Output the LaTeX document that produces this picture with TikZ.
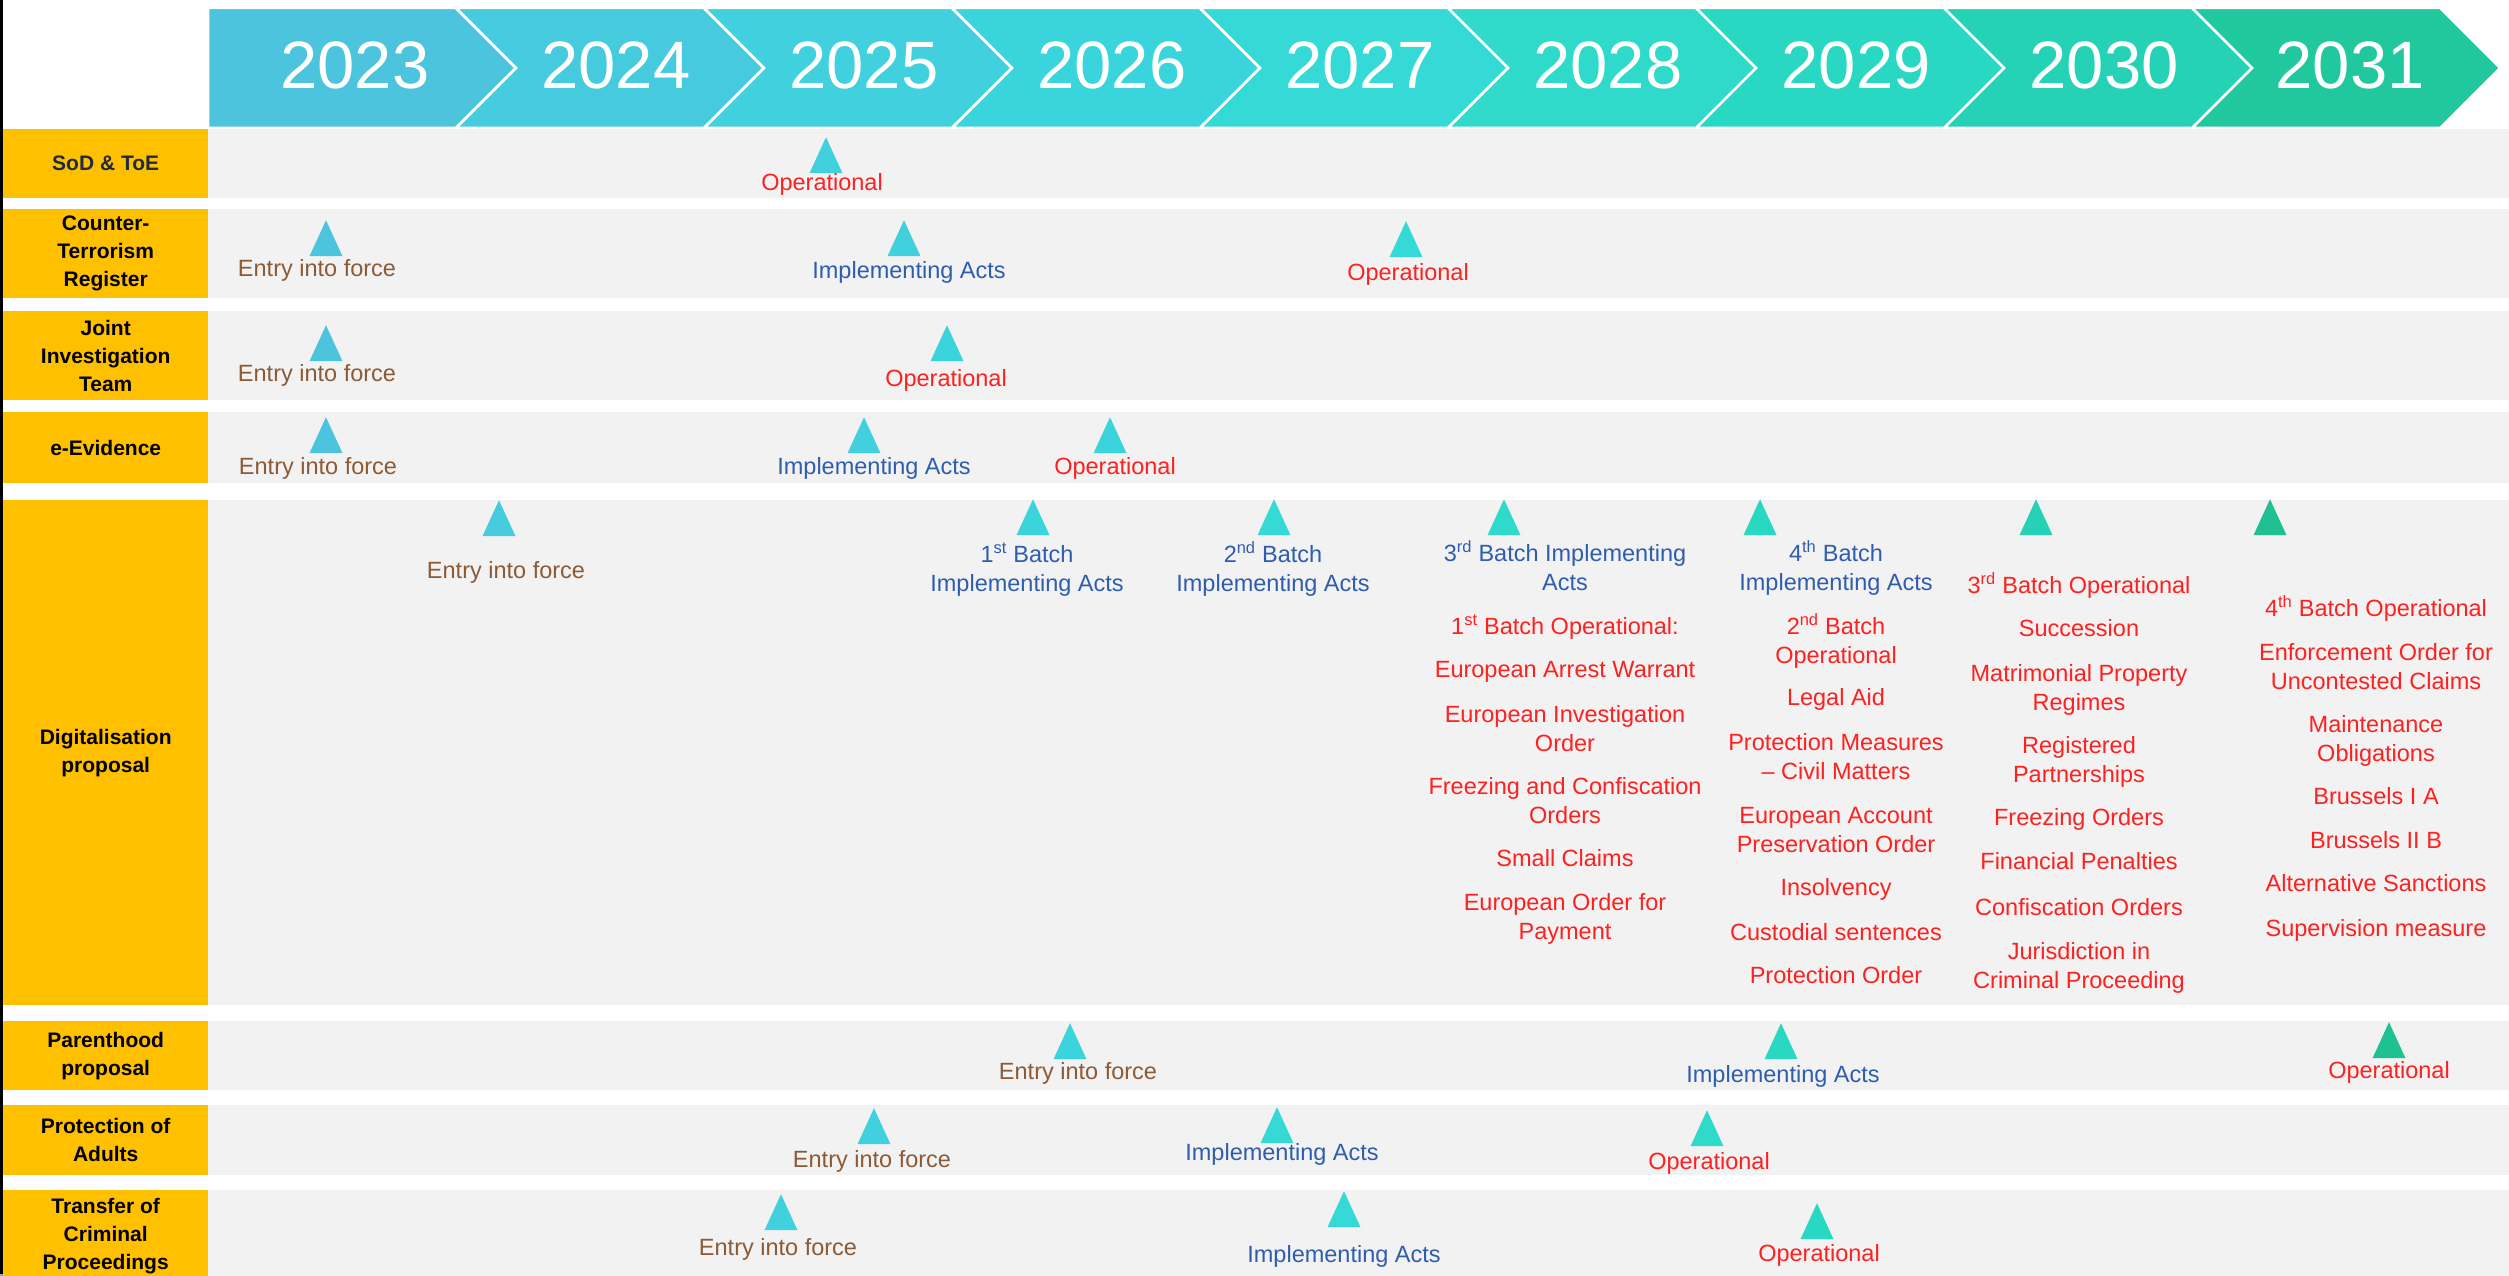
\documentclass[tikz,border=0pt]{standalone}
\usepackage{fontspec}
\setmainfont{Liberation Sans}
\definecolor{ylw}{HTML}{FFC000}
\definecolor{band}{HTML}{F2F2F2}
\definecolor{entc}{HTML}{8C5A35}
\definecolor{impc}{HTML}{2F5DAE}
\definecolor{opc}{HTML}{FF2020}
\definecolor{navy}{HTML}{1F2A44}
\definecolor{yrA}{HTML}{4CC4DD}
\definecolor{yrB}{HTML}{46CADE}
\definecolor{yrC}{HTML}{40D0DE}
\definecolor{yrD}{HTML}{3AD5DC}
\definecolor{yrE}{HTML}{35D9D6}
\definecolor{yrF}{HTML}{30DACB}
\definecolor{yrG}{HTML}{29D8C2}
\definecolor{yrH}{HTML}{26D2B5}
\definecolor{yrI}{HTML}{21C89E}
\definecolor{triI}{HTML}{1FC092}
\newcommand\chev[3]{%
  \fill[#2,draw=white,line width=2.5pt] (#1,8) -- (#1+248,8) -- (#1+308,68) -- (#1+248,128) -- (#1,128) -- (#1+#3,68) -- cycle;}
\begin{document}
\begin{tikzpicture}[x=1pt,y=-1pt,
  yr/.style={text=white, font=\fontsize{67}{67}\selectfont, anchor=base, inner sep=0pt},
  lab/.style={fill=ylw, minimum width=205pt, anchor=north west, inner sep=0pt, align=center, font=\bfseries\fontsize{21}{28}\selectfont},
  itm/.style={anchor=base, inner sep=0pt, align=center, font=\fontsize{23.5}{28.5}\selectfont},
  twoline/.style={yshift=-28.5pt},
  ent/.style={itm, text=entc},
  imp/.style={itm, text=impc},
  ope/.style={itm, text=opc},
  tri/.style={inner sep=0pt, minimum width=33pt, minimum height=36pt, anchor=north,
    path picture={\fill[#1] (path picture bounding box.south west) -- (path picture bounding box.south east) -- (path picture bounding box.north) -- cycle;}},
]
\useasboundingbox (0,0) rectangle (2509,1276);
\fill[white] (0,0) rectangle (2509,1276);
% left border and bottom line
\fill[black] (0,0) rectangle (3,1276);
\fill[gray!70] (0,1274) rectangle (2509,1276);

% header chevrons
\chev{208}{yrA}{0}
\chev{456}{yrB}{60}
\chev{704}{yrC}{60}
\chev{952}{yrD}{60}
\chev{1200}{yrE}{60}
\chev{1448}{yrF}{60}
\chev{1696}{yrG}{60}
\chev{1944}{yrH}{60}
\chev{2192}{yrI}{60}
\node[yr] (y2023) at (355,89) {2023};
\node[yr] (y2024) at (616,89) {2024};
\node[yr] (y2025) at (864,89) {2025};
\node[yr] (y2026) at (1112,89) {2026};
\node[yr] (y2027) at (1360,89) {2027};
\node[yr] (y2028) at (1608,89) {2028};
\node[yr] (y2029) at (1856,89) {2029};
\node[yr] (y2030) at (2104,89) {2030};
\node[yr] (y2031) at (2350,89) {2031};

% row bands
\fill[band] (208,129) rectangle (2509,198);
\fill[band] (208,209) rectangle (2509,298);
\fill[band] (208,311) rectangle (2509,400);
\fill[band] (208,412) rectangle (2509,483);
\fill[band] (208,500) rectangle (2509,1005);
\fill[band] (208,1021) rectangle (2509,1090);
\fill[band] (208,1105) rectangle (2509,1175);
\fill[band] (208,1190) rectangle (2509,1276);

% row labels
\node[lab, minimum height=69pt, text=navy] (rSoD) at (3,129) {SoD \& ToE};
\node[lab, minimum height=89pt] (rCTR) at (3,209) {Counter-\\Terrorism\\Register};
\node[lab, minimum height=89pt] (rJIT) at (3,311) {Joint\\Investigation\\Team};
\node[lab, minimum height=71pt] (rEEv) at (3,412) {e-Evidence};
\node[lab, minimum height=505pt] (rDig) at (3,500) {Digitalisation\\proposal};
\node[lab, minimum height=69pt] (rPar) at (3,1021) {Parenthood\\proposal};
\node[lab, minimum height=70pt] (rPoA) at (3,1105) {Protection of\\Adults};
\node[lab, minimum height=91pt] (rTCP) at (3,1190) {Transfer of\\Criminal\\Proceedings};

% row 1
\node[tri=yrC] (t1a) at (826,137) {};
\node[ope] (l1a) at (822,190.5) {Operational};

% row 2
\node[tri=yrA] (t2a) at (326,220) {};
\node[ent] (l2a) at (317,276.5) {Entry into force};
\node[tri=yrC] (t2b) at (904,220) {};
\node[imp] (l2b) at (909,278.5) {Implementing Acts};
\node[tri=yrE] (t2c) at (1406,221) {};
\node[ope] (l2c) at (1408,280.5) {Operational};

% row 3
\node[tri=yrA] (t3a) at (326,325) {};
\node[ent] (l3a) at (317,381.5) {Entry into force};
\node[tri=yrD] (t3b) at (947,325) {};
\node[ope] (l3b) at (946,386.5) {Operational};

% row 4
\node[tri=yrA] (t4a) at (326,417) {};
\node[ent] (l4a) at (318,474.5) {Entry into force};
\node[tri=yrC] (t4b) at (864,417) {};
\node[imp] (l4b) at (874,474.5) {Implementing Acts};
\node[tri=yrD] (t4c) at (1110,417) {};
\node[ope] (l4c) at (1115,474.5) {Operational};

% row 5 digitalisation
\node[tri=yrB] (t5a) at (499,500) {};
\node[ent] (l5a) at (506,578.5) {Entry into force};
\node[tri=yrD] (t5b) at (1033,499) {};
\node[imp, twoline] (l5b) at (1027,562.5) {1\textsuperscript{st} Batch\\Implementing Acts};
\node[tri=yrE] (t5c) at (1274,499) {};
\node[imp, twoline] (l5c) at (1273,562.5) {2\textsuperscript{nd} Batch\\Implementing Acts};
\node[tri=yrF] (t5d) at (1504,499) {};
\node[imp, twoline] (l5d) at (1565,561.5) {3\textsuperscript{rd} Batch Implementing\\Acts};
\node[ope] (a1) at (1565,634.5) {1\textsuperscript{st} Batch Operational:};
\node[ope] (a2) at (1565,677.5) {European Arrest Warrant};
\node[ope, twoline] (a3) at (1565,722.5) {European Investigation\\Order};
\node[ope, twoline] (a4) at (1565,794.5) {Freezing and Confiscation\\Orders};
\node[ope] (a5) at (1565,866.5) {Small Claims};
\node[ope, twoline] (a6) at (1565,910.5) {European Order for\\Payment};
\node[tri=yrG] (t5e) at (1760,499) {};
\node[imp, twoline] (l5e) at (1836,561.5) {4\textsuperscript{th} Batch\\Implementing Acts};
\node[ope, twoline] (b1) at (1836,634.5) {2\textsuperscript{nd} Batch\\Operational};
\node[ope] (b2) at (1836,705.5) {Legal Aid};
\node[ope, twoline] (b3) at (1836,750.5) {Protection Measures\\– Civil Matters};
\node[ope, twoline] (b4) at (1836,823.5) {European Account\\Preservation Order};
\node[ope] (b5) at (1836,895.5) {Insolvency};
\node[ope] (b6) at (1836,940.5) {Custodial sentences};
\node[ope] (b7) at (1836,983.5) {Protection Order};
\node[tri=yrH] (t5f) at (2036,499) {};
\node[ope] (c1) at (2079,593.5) {3\textsuperscript{rd} Batch Operational};
\node[ope] (c2) at (2079,636.5) {Succession};
\node[ope, twoline] (c3) at (2079,681.5) {Matrimonial Property\\Regimes};
\node[ope, twoline] (c4) at (2079,753.5) {Registered\\Partnerships};
\node[ope] (c5) at (2079,825.5) {Freezing Orders};
\node[ope] (c6) at (2079,869.5) {Financial Penalties};
\node[ope] (c7) at (2079,915.5) {Confiscation Orders};
\node[ope, twoline] (c8) at (2079,959.5) {Jurisdiction in\\Criminal Proceeding};
\node[tri=triI] (t5g) at (2270,499) {};
\node[ope] (d1) at (2376,616.5) {4\textsuperscript{th} Batch Operational};
\node[ope, twoline] (d2) at (2376,660.5) {Enforcement Order for\\Uncontested Claims};
\node[ope, twoline] (d3) at (2376,732.5) {Maintenance\\Obligations};
\node[ope] (d4) at (2376,804.5) {Brussels I A};
\node[ope] (d5) at (2376,848.5) {Brussels II B};
\node[ope] (d6) at (2376,891.5) {Alternative Sanctions};
\node[ope] (d7) at (2376,936.5) {Supervision measure};

% row 6
\node[tri=yrD] (t6a) at (1070,1023) {};
\node[ent] (l6a) at (1078,1079.5) {Entry into force};
\node[tri=yrG] (t6b) at (1781,1023) {};
\node[imp] (l6b) at (1783,1082.5) {Implementing Acts};
\node[tri=triI] (t6c) at (2389,1022) {};
\node[ope] (l6c) at (2389,1078.5) {Operational};

% row 7
\node[tri=yrC] (t7a) at (874,1108) {};
\node[ent] (l7a) at (872,1167.5) {Entry into force};
\node[tri=yrE] (t7b) at (1277,1107) {};
\node[imp] (l7b) at (1282,1160.5) {Implementing Acts};
\node[tri=yrF] (t7c) at (1707,1110) {};
\node[ope] (l7c) at (1709,1169.5) {Operational};

% row 8
\node[tri=yrC] (t8a) at (781,1194) {};
\node[ent] (l8a) at (778,1255.5) {Entry into force};
\node[tri=yrE] (t8b) at (1344,1191) {};
\node[imp] (l8b) at (1344,1262.5) {Implementing Acts};
\node[tri=yrG] (t8c) at (1817,1203) {};
\node[ope] (l8c) at (1819,1261.5) {Operational};
\end{tikzpicture}
\end{document}
